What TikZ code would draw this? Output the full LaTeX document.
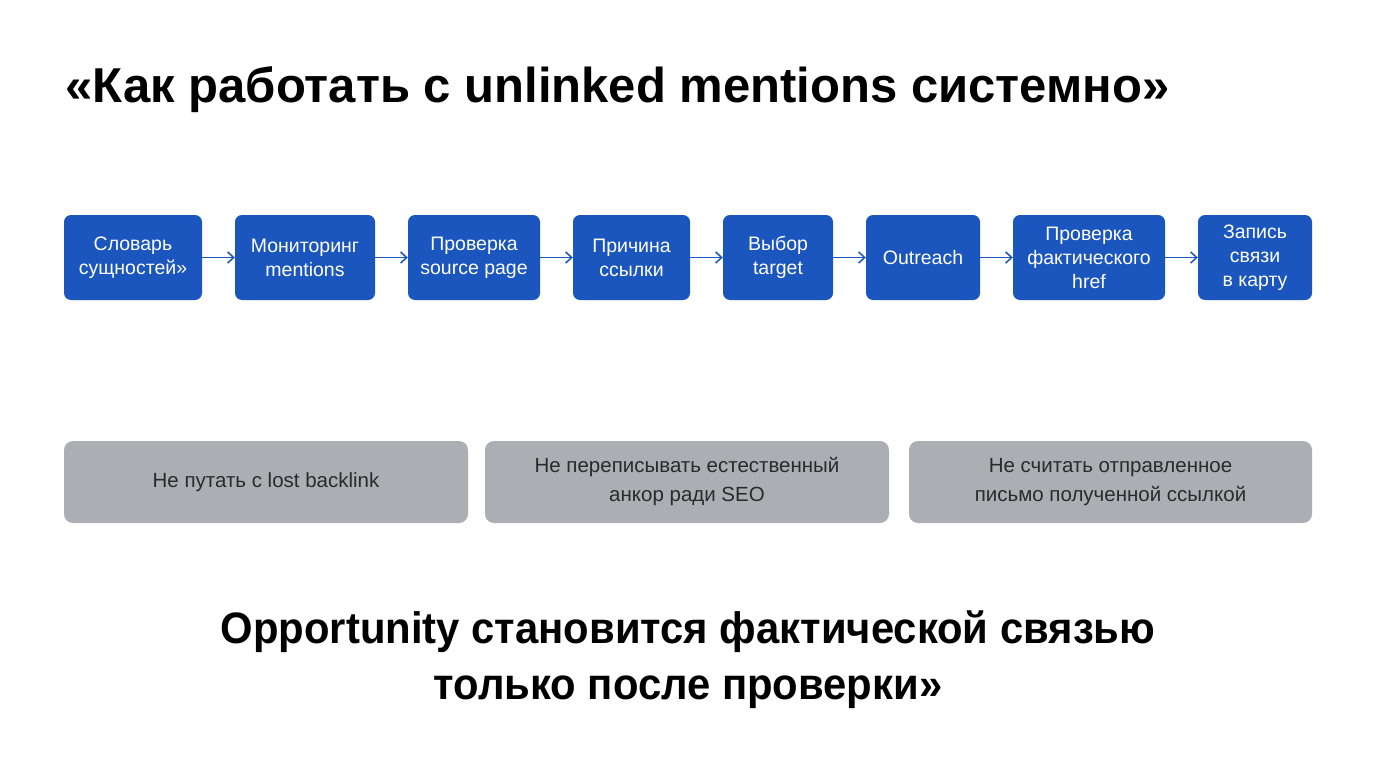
\documentclass[tikz,border=0pt]{standalone}
\usepackage{fontspec}
\setmainfont{Liberation Sans}[FakeStretch=0.86]
\newfontfamily\wideff{Liberation Sans}
\newfontfamily\footff{Liberation Sans}[FakeStretch=0.95]
\usetikzlibrary{arrows.meta}
\definecolor{bl}{HTML}{1B55BE}
\definecolor{gr}{HTML}{ABAFB4}
\definecolor{tx}{HTML}{2A2A2A}
\begin{document}
\begin{tikzpicture}[x=1pt,y=-1pt,
 stepbox/.style={fill=bl,draw=none,rounded corners=7pt,text=white,align=center,font=\wideff\fontsize{19.5}{24}\selectfont,inner sep=0pt},
 note/.style={fill=gr,draw=none,rounded corners=9pt,text=tx,align=center,font=\wideff\fontsize{20.5}{29}\selectfont,inner sep=0pt,minimum height=82pt},
 arr/.style={draw=bl,line width=1.5pt,-{Straight Barb[length=6pt,width=11pt]}}]
\useasboundingbox (0,0) rectangle (1376,768);
\fill[white] (0,0) rectangle (1376,768);
\node[anchor=west,font=\wideff\fontsize{49}{56}\selectfont\bfseries] (title) at (62,90) {«Как работать с unlinked mentions системно»};
\foreach \n/\a/\b/\t in {1/64/202/{Словарь\\сущностей»},2/235/375/{Мониторинг\\mentions},3/408/540/{Проверка\\source page},4/573/690/{Причина\\ссылки},5/723/833/{Выбор\\target},6/866/980/{Outreach},7/1013/1165/{Проверка\\фактического\\href},8/1198/1312/{Запись\\связи\\в карту}}{
 \node[stepbox,minimum width={\b-\a},minimum height=85pt] (s\n) at ({(\a+\b)/2},257.5) {\t};
}
\foreach \i/\j in {1/2,2/3,3/4,4/5,5/6,6/7,7/8}{\draw[arr] (s\i) -- (s\j);}
\node[note,minimum width=404pt] (n1) at (266,482) {Не путать с lost backlink};
\node[note,minimum width=404pt] (n2) at (687,482) {Не переписывать естественный\\анкор ради SEO};
\node[note,minimum width=403pt] (n3) at (1110.5,482) {Не считать отправленное\\письмо полученной ссылкой};
\node[align=center,font=\footff\fontsize{44}{56}\selectfont\bfseries] (foot) at (688,660) {Opportunity становится фактической связью\\только после проверки»};
\end{tikzpicture}
\end{document}
